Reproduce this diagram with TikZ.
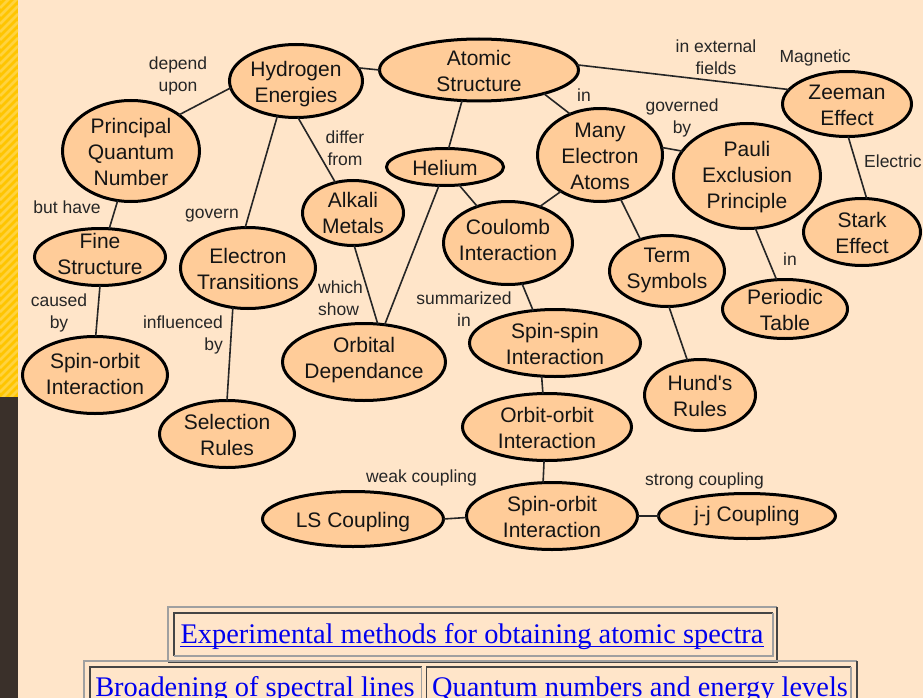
\documentclass[tikz,border=0pt]{standalone}
\usepackage{fontspec}
\setmainfont{Liberation Sans}
\newfontfamily\linkfont{Liberation Serif}
\usetikzlibrary{shapes.geometric}
\definecolor{bg}{HTML}{FFE5C9}
\definecolor{nodefill}{HTML}{FFCC99}
\definecolor{stripebase}{HTML}{FFC500}
\definecolor{stripelight}{HTML}{FFD33F}
\definecolor{darkside}{HTML}{3A302A}
\definecolor{linkblue}{HTML}{0000EE}
\definecolor{bevellight}{HTML}{A0A0A0}
\definecolor{beveldark}{HTML}{454545}
\newcommand\mkconcept[7][0]{%
  \node[ell, minimum width={2*#5-3}, minimum height={2*#6-3}] (#2) at (#3,#4) {};
  \node[ntext, yshift=#1pt] (#2-t) at (#2) {#7};}
\begin{document}
\begin{tikzpicture}[x=1pt,y=-1pt,
  ell/.style={ellipse, draw=black, line width=3pt, fill=nodefill, inner sep=0pt, outer sep=0pt},
  ntext/.style={font=\fontsize{21}{26}\selectfont, align=center, inner sep=0pt, text=black!92, yshift=-3.5pt},
  lbl/.style={font=\fontsize{17.5}{22}\selectfont, align=center, inner sep=0pt, text=black!85},
  conn/.style={line width=1.6pt, draw=black!85},
  linktext/.style={font=\linkfont\fontsize{28.4}{34}\selectfont, text=linkblue, inner sep=0pt, anchor=base},
  uline/.style={draw=linkblue, line width=1.3pt},
  lightedge/.style={draw=bevellight, line width=1.8pt},
  darkedge/.style={draw=beveldark, line width=1.8pt},
]
\useasboundingbox (0,0) rectangle (923,698);
\clip (0,0) rectangle (923,698);
\fill[bg] (0,0) rectangle (923,698);
% left strip
\fill[stripebase] (0,0) rectangle (18,397);
\begin{scope}
  \clip (0,0) rectangle (18,397);
  \foreach \i in {-3,...,54} {
    \draw[stripelight, line width=2.6pt] (0,\i*8) -- (18,\i*8-18);
  }
\end{scope}
\fill[darkside] (0,397) rectangle (18,698);

% concepts
\mkconcept{hyd}{296}{81}{68}{38}{\strut Hydrogen\\\strut Energies}
\mkconcept{atom}{479}{70}{101}{32.5}{\strut Atomic\\\strut Structure}
\mkconcept{pqn}{131}{151}{70}{52}{\strut Principal\\\strut Quantum\\\strut Number}
\mkconcept[4.5]{fine}{100}{257}{67}{30}{\strut Fine\\\strut Structure}
\mkconcept{etr}{248}{268}{69}{42}{\strut Electron\\\strut Transitions}
\mkconcept[1.5]{alk}{353}{213}{52}{34}{\strut Alkali\\\strut Metals}
\mkconcept{hel}{445}{167}{60}{20}{\strut Helium}
\mkconcept{many}{600}{155}{64}{48}{\strut Many\\\strut Electron\\\strut Atoms}
\mkconcept[2]{pauli}{747}{176}{75}{54}{\strut Pauli\\\strut Exclusion\\\strut Principle}
\mkconcept{zee}{847}{104}{66}{34}{\strut Zeeman\\\strut Effect}
\mkconcept{stark}{862}{232}{60}{35}{\strut Stark\\\strut Effect}
\mkconcept[4]{coul}{508}{243}{66}{43}{\strut Coulomb\\\strut Interaction}
\mkconcept[4]{term}{667}{271}{59}{37}{\strut Term\\\strut Symbols}
\mkconcept{per}{785}{309}{64}{31}{\strut Periodic\\\strut Table}
\mkconcept[5]{orb}{364}{362}{83}{40}{\strut Orbital\\\strut Dependance}
\mkconcept{ss}{555}{343}{87}{35}{\strut Spin-spin\\\strut Interaction}
\mkconcept{hund}{700}{395}{57}{37}{\strut Hund\textquotesingle s\\\strut Rules}
\mkconcept{oo}{547}{427}{86}{35}{\strut Orbit-orbit\\\strut Interaction}
\mkconcept{so}{552}{516}{87}{35}{\strut Spin-orbit\\\strut Interaction}
\mkconcept[3]{jj}{747}{516}{90}{24}{\strut j-j Coupling}
\mkconcept{ls}{353}{519}{92}{29}{\strut LS Coupling}
\mkconcept{sel}{227}{434}{69}{35}{\strut Selection\\\strut Rules}
\mkconcept[2]{sol}{95}{375}{74}{40}{\strut Spin-orbit\\\strut Interaction}

% connectors
\draw[conn] (hyd.186) -- (pqn.37);
\draw[conn] (hyd.12) -- (atom.180);
\draw[conn] (hyd.242) -- (etr.94);
\draw[conn] (hyd.273) -- (alk.120);
\draw[conn] (pqn.255) -- (fine.72);
\draw[conn] (fine.270) -- (sol.89);
\draw[conn] (etr.249) -- (sel.90);
\draw[conn] (alk.272) -- (orb.70);
\draw[conn] (hel.79) -- (atom.241);
\draw[conn] (hel.252) -- (orb.61);
\draw[conn] (hel.308) -- (coul.130);
\draw[conn] (atom.340) -- (many.126);
\draw[conn] (atom.3) -- (zee.166);
\draw[conn] (many.7) -- (pauli.159);
\draw[conn] (many.223) -- (coul.49);
\draw[conn] (many.295) -- (term.130);
\draw[conn] (pauli.279) -- (per.106);
\draw[conn] (zee.272) -- (stark.82);
\draw[conn] (coul.289) -- (ss.124);
\draw[conn] (term.273) -- (hund.110);
\draw[conn] (ss.248) -- (oo.97);
\draw[conn] (oo.265) -- (so.105);
\draw[conn] (so.181) -- (ls.0);
\draw[conn] (so.0) -- (jj.180);

% link labels
\node[lbl] (l-depend) at (178,75.9) {\strut depend\\\strut upon};
\node[lbl] (l-differ) at (345,150.1) {\strut differ\\\strut from};
\node[lbl, anchor=base] (l-buthave) at (67,213) {but have};
\node[lbl, anchor=base] (l-govern) at (212,218.3) {govern};
\node[lbl] (l-caused) at (59,313.1) {\strut caused\\\strut by};
\node[lbl, align=right, anchor=east] (l-infl) at (223,334.9) {\strut influenced\\\strut by};
\node[lbl, align=left, anchor=west] (l-which) at (318,299.9) {\strut which\\\strut show};
\node[lbl] (l-summ) at (464,310.6) {\strut summarized\\\strut in};
\node[lbl, anchor=base] (l-in1) at (584,101.7) {in};
\node[lbl] (l-ext) at (716,58.9) {\strut in external\\\strut fields};
\node[lbl, anchor=base] (l-magn) at (815,62.3) {Magnetic};
\node[lbl] (l-gov) at (682,118.3) {\strut governed\\\strut by};
\node[lbl, anchor=base west] (l-elec) at (864,167.3) {Electric};
\node[lbl, anchor=base] (l-in2) at (790,265.7) {in};
\node[lbl, anchor=base] (l-weak) at (421.5,482) {weak coupling};
\node[lbl, anchor=base] (l-strong) at (704.5,485) {strong coupling};

% bottom link tables
\draw[lightedge] (168,662) -- (168,607) -- (777,607);
\draw[darkedge] (777,607) -- (777,662) -- (168,662);
\draw[darkedge] (174,656) -- (174,613) -- (773,613);
\draw[lightedge] (773,613) -- (773,656) -- (174,656);
\node[linktext] (exp) at (472,643.3) {Experimental methods for obtaining atomic spectra};
\draw[uline] ([yshift=-3.4pt]exp.base west) -- ([yshift=-3.4pt]exp.base east);

\draw[lightedge] (84,710) -- (84,661) -- (857,661);
\draw[darkedge] (857,661) -- (857,710);
\draw[darkedge] (90,710) -- (90,667) -- (421.5,667);
\draw[lightedge] (421.5,667) -- (421.5,710);
\draw[darkedge] (426.5,710) -- (426.5,667) -- (851,667);
\draw[lightedge] (851,667) -- (851,710);
\node[linktext] (broad) at (255,696) {Broadening of spectral lines};
\node[linktext] (quant) at (640,696) {Quantum numbers and energy levels};
\draw[uline] ([yshift=-3.4pt]broad.base west) -- ([yshift=-3.4pt]broad.base east);
\draw[uline] ([yshift=-3.4pt]quant.base west) -- ([yshift=-3.4pt]quant.base east);
\end{tikzpicture}
\end{document}
